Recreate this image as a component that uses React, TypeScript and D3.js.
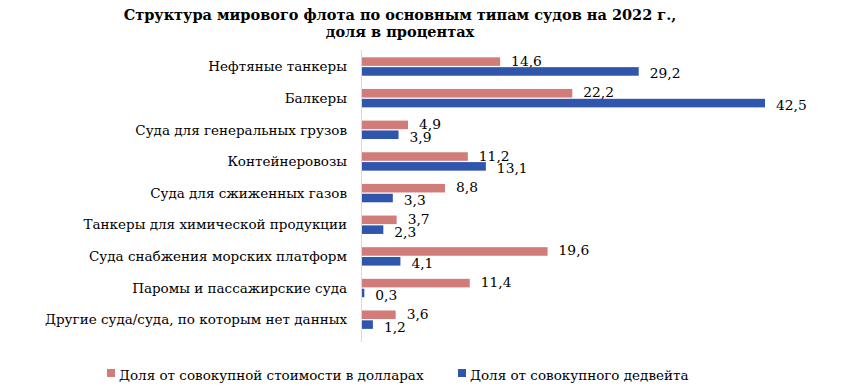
import * as d3 from "d3";
import { useRef, useEffect } from "react";

// категории судов (сверху вниз)
const categories = [
  "Нефтяные танкеры",
  "Балкеры",
  "Суда для генеральных  грузов",
  "Контейнеровозы",
  "Суда для сжиженных  газов",
  "Танкеры  для химической продукции",
  "Суда снабжения  морских платформ",
  "Паромы и пассажирские  суда",
  "Другие суда/суда, по которым нет данных",
];

// доля от совокупной стоимости в долларах, %
const valueShare = [14.6, 22.2, 4.9, 11.2, 8.8, 3.7, 19.6, 11.4, 3.6];
// доля от совокупного дедвейта, %
const dwtShare = [29.2, 42.5, 3.9, 13.1, 3.3, 2.3, 4.1, 0.3, 1.2];

const seriesNames = [
  "Доля от совокупной стоимости в долларах",
  "Доля от совокупного дедвейта",
];
const titleLines = [
  "Структура мирового флота по основным типам судов на 2022 г.,",
  "доля в процентах",
];
const colors = ["#D27C7A", "#2F56AB"];

const W = 859;
const H = 387;
const FONT = "DejaVu Serif";

const App = () => {
  const ref = useRef<SVGSVGElement>(null);

  useEffect(() => {
    const svg = d3.select(ref.current);
    svg.selectAll("*").remove();

    const x0 = 361.5;
    const x = d3.scaleLinear().domain([0, 42.5]).range([x0, 765]);
    const y = d3.scaleBand().domain(categories).range([50.7, 335.5]);
    const inner = d3
      .scaleBand()
      .domain(["0", "1"])
      .range([y.bandwidth() / 2 - 9.2, y.bandwidth() / 2 + 9.2])
      .paddingInner(0.13);

    // заголовок
    svg.append("g")
      .attr("font-family", FONT)
      .attr("font-weight", "bold")
      .attr("font-size", 14.5)
      .attr("text-anchor", "middle")
      .selectAll("text")
      .data(titleLines)
      .enter()
      .append("text")
      .attr("x", 400)
      .attr("y", (d, i) => 19.5 + i * 17.5)
      .text((d) => d);

    // подписи категорий
    svg.append("g")
      .attr("font-family", FONT)
      .attr("font-size", 13.5)
      .selectAll("text")
      .data(categories)
      .enter()
      .append("text")
      .attr("x", 347)
      .attr("y", (d) => y(d)! + y.bandwidth() / 2)
      .attr("dy", "0.35em")
      .attr("text-anchor", "end")
      .text((d) => d);

    // полоски и подписи значений
    const series = [valueShare, dwtShare];
    const labelShift = [-1, 2];
    series.forEach((vals, si) => {
      const g = svg.append("g").attr("font-family", FONT).attr("font-size", 13.8);
      g.selectAll("rect")
        .data(vals)
        .enter()
        .append("rect")
        .attr("x", x0)
        .attr("y", (d, i) => y(categories[i])! + inner(String(si))!)
        .attr("width", (d) => x(d) - x0)
        .attr("height", inner.bandwidth())
        .attr("fill", colors[si]);
      g.selectAll("text")
        .data(vals)
        .enter()
        .append("text")
        .attr("x", (d) => x(d) + 11)
        .attr("y", (d, i) => y(categories[i])! + inner(String(si))! + inner.bandwidth() / 2 + labelShift[si])
        .attr("dy", "0.36em")
        .text((d) => d3.format(".1f")(d).replace(".", ","));
    });

    // вертикальная ось
    svg.append("line")
      .attr("x1", x0).attr("x2", x0)
      .attr("y1", 50).attr("y2", 342)
      .attr("stroke", "#d9d9d9")
      .attr("stroke-width", 1);

    // легенда
    const legendX = [107, 458];
    const legend = svg.append("g").attr("font-family", FONT).attr("font-size", 13.5);
    seriesNames.forEach((name, i) => {
      legend.append("rect")
        .attr("x", legendX[i]).attr("y", 369)
        .attr("width", 8).attr("height", 8)
        .attr("fill", colors[i]);
      legend.append("text")
        .attr("x", legendX[i] + 12).attr("y", 380)
        .text(name);
    });
  }, []);

  return (
    <svg ref={ref} width={W} height={H} style={{ position: "absolute", left: 0, top: 0, background: "#fff" }}></svg>
  );
};

export default App;
